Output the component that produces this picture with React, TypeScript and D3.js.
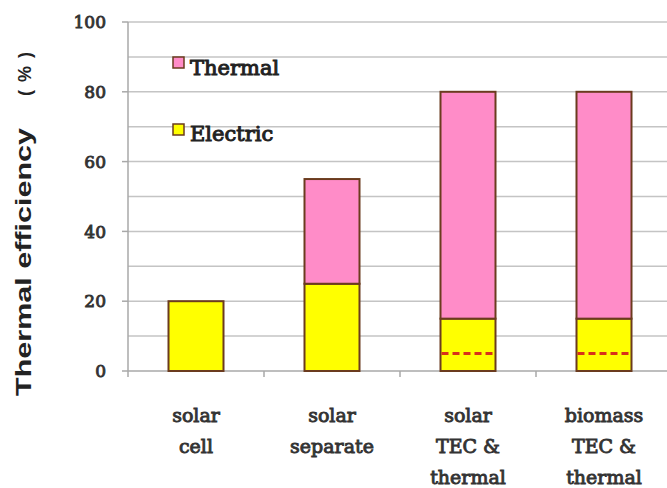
import React from "react";
import * as d3 from "d3";

const categories = [["solar", "cell"], ["solar", "separate"], ["solar", "TEC &", "thermal"], ["biomass", "TEC &", "thermal"]];
const electric = [20, 25, 15, 15];
const thermal = [0, 30, 65, 65];
const tecShare = [null, null, 5, 5];
const yTicks = [0, 20, 40, 60, 80, 100];
const gridValues = [10, 20, 30, 40, 50, 60, 70, 80, 90, 100];
const legendItems = [
  { label: "Thermal", color: "#ff8cc8" },
  { label: "Electric", color: "#ffff00" },
];
const unitChars = ["(", "%", ")"];

const W = 667;
const H = 488;
const left = 128;
const right = 672;
const top = 22;
const bottom = 371;

const serifFont = "DejaVu Serif";
const sansFont = "Liberation Sans";

// heavy serif look: regular face with a thin outline of the same colour
const heavySerif = (fill: string, w: number) => ({
  fontFamily: serifFont,
  fontWeight: "normal" as const,
  fill,
  stroke: fill,
  strokeWidth: w,
});

export default function App() {
  const x = d3.scaleBand<number>().domain(d3.range(categories.length)).range([left, right]).paddingInner(0).paddingOuter(0);
  const y = d3.scaleLinear().domain([0, 100]).range([bottom, top]);
  const barW = 55;
  const outline = "#6b3b1e";

  return (
    <svg width={W} height={H} style={{ position: "absolute", left: 0, top: 0, background: "#fff" }}>
      {gridValues.map((v) => (
        <line key={v} x1={left} x2={W} y1={y(v)} y2={y(v)} stroke="#c4c4c4" strokeWidth={1.5} />
      ))}
      <line x1={left} x2={left} y1={top} y2={bottom} stroke="#a8a8a8" strokeWidth={1.5} />
      <line x1={left} x2={W} y1={bottom} y2={bottom} stroke="#a8a8a8" strokeWidth={1.5} />
      {yTicks.map((v) => (
        <g key={v}>
          <line x1={left - 6} x2={left} y1={y(v)} y2={y(v)} stroke="#a8a8a8" strokeWidth={1.5} />
          <text x={106} y={y(v)} dy="0.36em" textAnchor="end" fontSize={17} {...heavySerif("#333", 0.9)}>
            {v}
          </text>
        </g>
      ))}
      {d3.range(categories.length + 1).map((i) => {
        const xx = left + i * x.bandwidth();
        return <line key={i} x1={xx} x2={xx} y1={bottom} y2={bottom + 6} stroke="#a8a8a8" strokeWidth={1.5} />;
      })}
      {categories.map((c, i) => {
        const cx = (x(i) as number) + x.bandwidth() / 2;
        const x0 = cx - barW / 2;
        return (
          <g key={i}>
            <rect x={x0} y={y(electric[i])} width={barW} height={y(0) - y(electric[i])} fill="#ffff00" stroke={outline} strokeWidth={2} />
            {thermal[i] > 0 && (
              <rect
                x={x0}
                y={y(electric[i] + thermal[i])}
                width={barW}
                height={y(electric[i]) - y(electric[i] + thermal[i])}
                fill="#ff8cc8"
                stroke={outline}
                strokeWidth={2}
              />
            )}
            {tecShare[i] != null && (
              <line x1={x0 + 1} x2={x0 + barW - 1} y1={y(tecShare[i] as number)} y2={y(tecShare[i] as number)} stroke="#d8301a" strokeWidth={3} strokeDasharray="7,4" />
            )}
            {c.map((t, k) => (
              <text key={k} x={cx} y={422 + k * 31} textAnchor="middle" fontSize={19} {...heavySerif("#333", 0.9)}>
                {t}
              </text>
            ))}
          </g>
        );
      })}
      {legendItems.map((d, i) => (
        <g key={d.label}>
          <rect x={173} y={57 + i * 67} width={11} height={11} fill={d.color} stroke={outline} strokeWidth={1.5} />
          <text x={190} y={75 + i * 66} fontSize={21} {...heavySerif("#222", 1)}>
            {d.label}
          </text>
        </g>
      ))}
      <text transform="translate(31,396) rotate(-90)" fontFamily={sansFont} fontWeight="bold" fontSize={22} textLength={268} lengthAdjust="spacingAndGlyphs" fill="#222">
        Thermal efficiency
      </text>
      <g transform="translate(31,99) rotate(-90)">
        {unitChars.map((ch, k) => (
          <text key={k} x={6 + k * 19} textAnchor="middle" fontFamily={sansFont} fontWeight="bold" fontSize={18} fill="#222">
            {ch}
          </text>
        ))}
      </g>
    </svg>
  );
}
